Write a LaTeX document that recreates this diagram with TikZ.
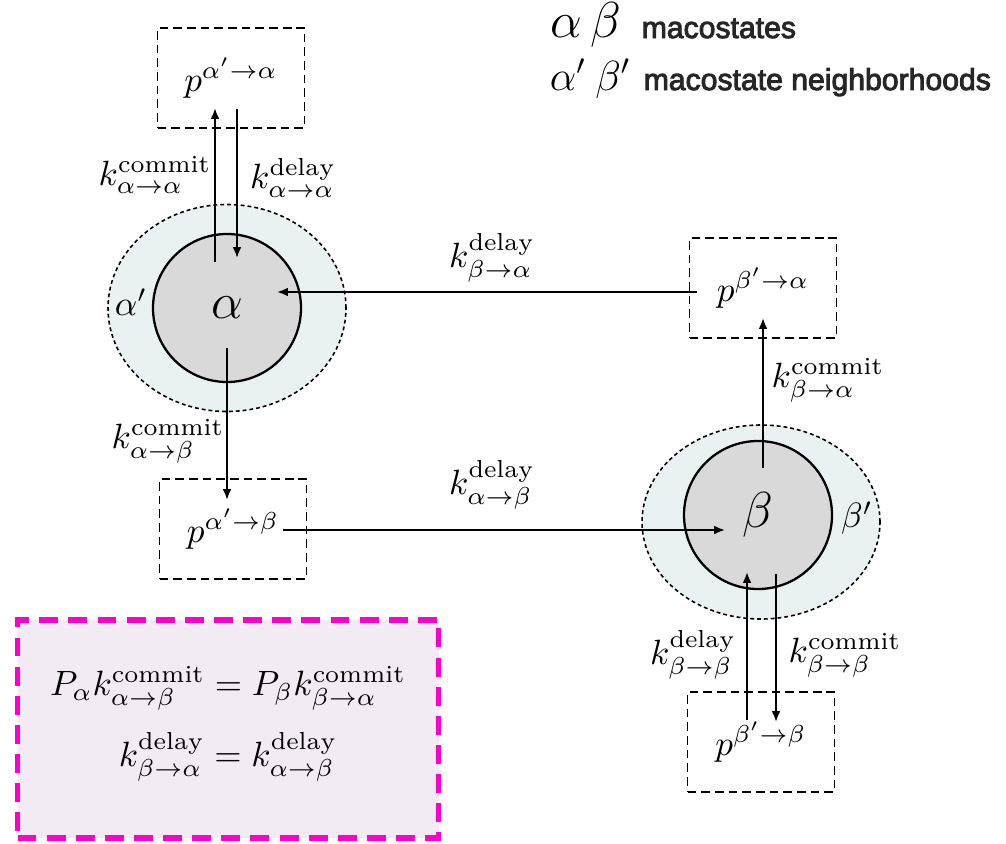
\documentclass[tikz,border=0pt]{standalone}
\usepackage{fontspec}
\newfontfamily\legendbold{Liberation Sans}[FakeBold=3]
\usetikzlibrary{arrows.meta,shapes.geometric,calc}
\def\u{0.285pt}
\definecolor{hoodfill}{HTML}{EAF1F3}
\definecolor{corefill}{HTML}{D9D9D9}
\definecolor{eqfill}{HTML}{F2EBF3}
\definecolor{eqline}{HTML}{FF00CC}
\tikzset{
  legendtext/.style={inner sep=0pt, anchor=base west, text=black!85,
    font=\legendbold\fontsize{8.6}{10}\selectfont},
  probbox/.style={draw, line width=0.55pt, dash pattern=on 2.5pt off 1.4pt,
    minimum width=147*\u, minimum height=100*\u, inner sep=0pt},
  hood/.style={ellipse, draw, fill=hoodfill, line width=0.45pt,
    dash pattern=on 1.1pt off 0.85pt, inner sep=0pt},
  core/.style={circle, draw, fill=corefill, line width=0.65pt,
    minimum size=148*\u, inner sep=0pt},
  flow/.style={line width=0.55pt, -{Latex[length=3.1pt,width=2.5pt]}},
  rate/.style={inner sep=0pt},
  eqbox/.style={draw=eqline, fill=eqfill, line width=1.7pt,
    dash pattern=on 5.4pt off 2.9pt, minimum width=421*\u, minimum height=218*\u},
}
\begin{document}
\begin{tikzpicture}[x=\u, y=-\u]
\useasboundingbox (0,0) rectangle (1006,843);

% legend
\node[inner sep=0pt, anchor=base] (lgA) at (566,37) {\fontsize{15.5}{18}\selectfont$\alpha$};
\node[inner sep=0pt, anchor=base] (lgB) at (606,37) {\fontsize{15.5}{18}\selectfont$\beta$};
\node[legendtext] (lgT1) at (641,38) {macostates};
\node[inner sep=0pt, anchor=base] (lgA2) at (568,90) {\large$\alpha'$};
\node[inner sep=0pt, anchor=base] (lgB2) at (613,90) {\large$\beta'$};
\node[legendtext] (lgT2) at (643,90) {macostate neighborhoods};

% macrostate alpha and its neighbourhood
\node[hood, minimum width=238*\u, minimum height=207*\u] (ahood) at (227,308) {};
\node[core] (acore) at (227,308) {\Large$\alpha$};
\node[rate] (alab) at (131,302) {$\alpha'$};

% macrostate beta and its neighbourhood
\node[hood, minimum width=238*\u, minimum height=194*\u] (bhood) at (761,522) {};
\node[core] (bcore) at (758,515) {\Large$\beta$};
\node[rate] (blab) at (857,518) {$\beta'$};

% splitting probabilities
\node[probbox] (bAA) at (231,78) {$p^{\alpha'\to\alpha}$};
\node[probbox] (bAB) at (233,529) {$p^{\alpha'\to\beta}$};
\node[probbox] (bBA) at (763,288) {$p^{\beta'\to\alpha}$};
\node[probbox] (bBB) at (761,742) {$p^{\beta'\to\beta}$};

% transitions
\draw[flow] ($(acore.center)+(-12,-46)$) -- ($(bAA.center)+(-16,30)$);
\draw[flow] ($(bAA.center)+(6,31)$) -- ($(acore.center)+(10,-50)$);
\draw[flow] ($(acore.center)+(0,40)$) -- ($(bAB.center)+(-6,-29)$);
\draw[flow] ($(bAB.center)+(50,1)$) -- ($(bcore.center)+(-33,15)$);
\draw[flow] ($(bBA.center)+(-66,4)$) -- ($(acore.center)+(50,-16)$);
\draw[flow] ($(bcore.center)+(5,-47)$) -- ($(bBA.center)+(0,30)$);
\draw[flow] ($(bBB.center)+(-14,-22)$) -- ($(bcore.center)+(-11,57)$);
\draw[flow] ($(bcore.center)+(18,59)$) -- ($(bBB.center)+(15,-20)$);

% rate labels
\node[rate] (kAAc) at (155,175) {$k^{\mathrm{commit}}_{\alpha\to\alpha}$};
\node[rate] (kAAd) at (293,178) {$k^{\mathrm{delay}}_{\alpha\to\alpha}$};
\node[rate] (kBAd) at (492,258) {$k^{\mathrm{delay}}_{\beta\to\alpha}$};
\node[rate] (kABc) at (168,441) {$k^{\mathrm{commit}}_{\alpha\to\beta}$};
\node[rate] (kABd) at (492,485) {$k^{\mathrm{delay}}_{\alpha\to\beta}$};
\node[rate] (kBAc) at (828,380) {$k^{\mathrm{commit}}_{\beta\to\alpha}$};
\node[rate] (kBBd) at (693,655) {$k^{\mathrm{delay}}_{\beta\to\beta}$};
\node[rate] (kBBc) at (845,655) {$k^{\mathrm{commit}}_{\beta\to\beta}$};

% detailed balance relations
\node[eqbox] (eq) at (228,729) {};
\node[rate] (eq1) at ($(eq.center)+(0,-41)$) {$P_\alpha k^{\mathrm{commit}}_{\alpha\to\beta} = P_\beta k^{\mathrm{commit}}_{\beta\to\alpha}$};
\node[rate] (eq2) at ($(eq.center)+(0,28)$) {$k^{\mathrm{delay}}_{\beta\to\alpha} = k^{\mathrm{delay}}_{\alpha\to\beta}$};
\end{tikzpicture}
\end{document}
